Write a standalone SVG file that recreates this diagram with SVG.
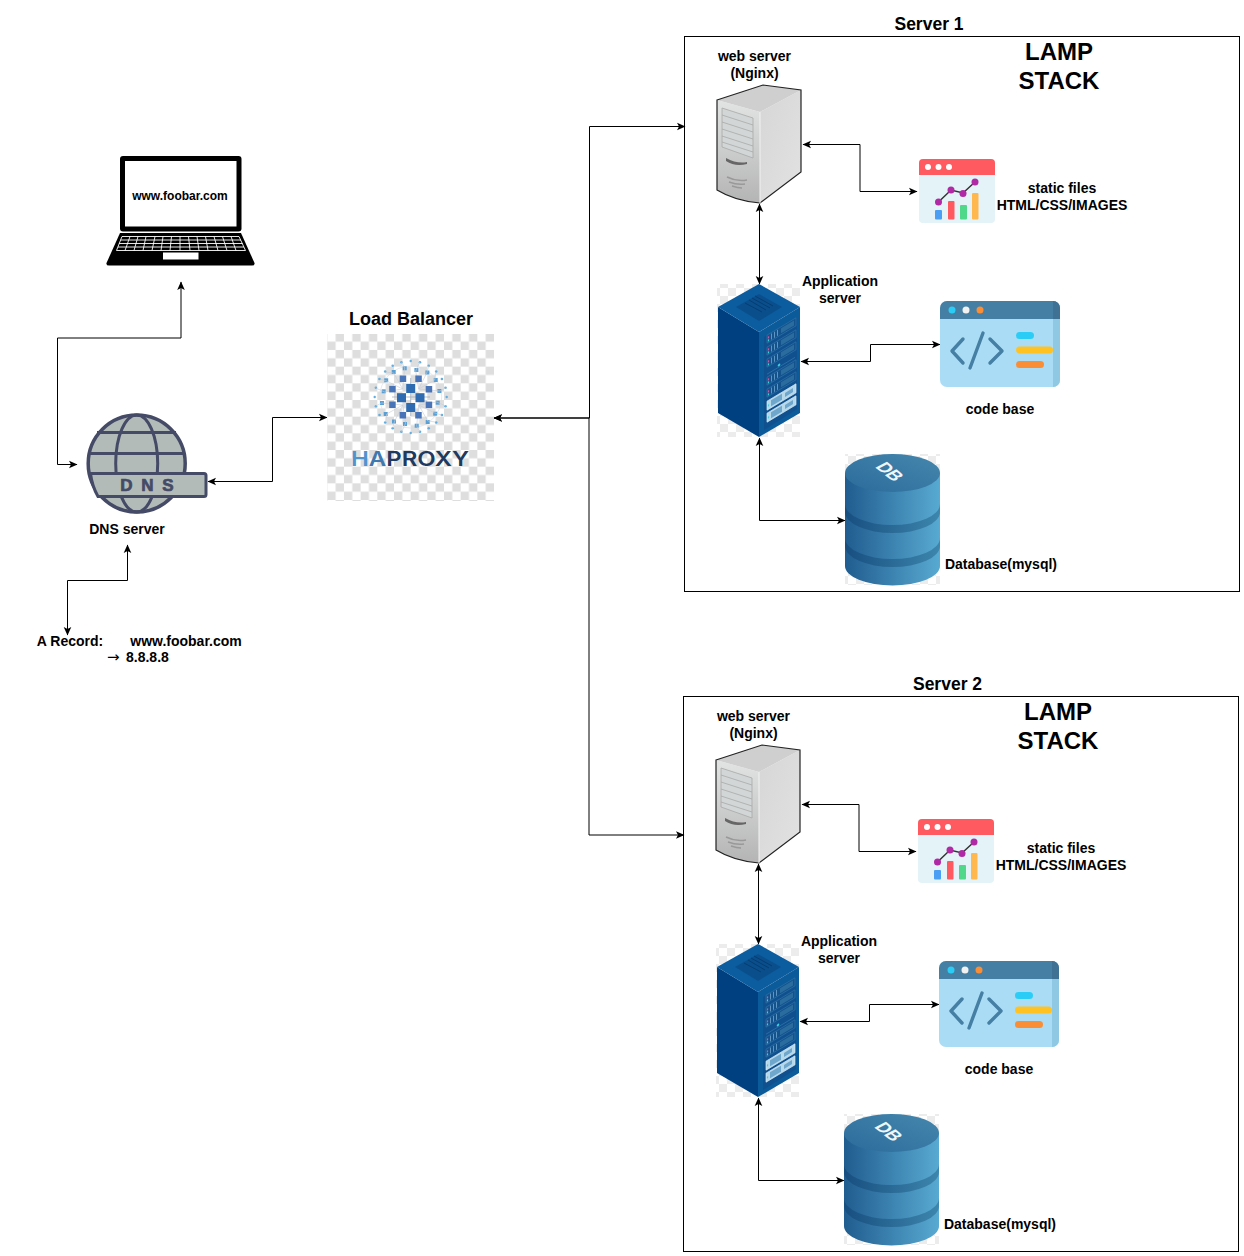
<svg xmlns="http://www.w3.org/2000/svg" width="1244" height="1256" viewBox="0 0 1244 1256">
<style>
text{font-family:"Liberation Sans",Arial,sans-serif;font-weight:700;fill:#000;text-anchor:middle}
.lbl{font-size:14px}
.ttl{font-size:17.500px}
.lamp{font-size:24px}
.box{fill:#fff;stroke:#000;stroke-width:1}
.conn{fill:none;stroke:#000;stroke-width:1;marker-start:url(#arr);marker-end:url(#arr)}
.k{stroke:#fff;stroke-width:.9;fill:none}
.r2{fill:#4a74b8}.r1{fill:#2f6bb0}.r3{fill:#5a9fd4}.r4{fill:#62aee0}
.unit{fill:#14528c;stroke:#2f74ab;stroke-width:.6}
.unitl{fill:#b5d8ea;stroke:#d9edf7;stroke-width:.6}
</style>
<defs>
<marker id="arr" markerUnits="userSpaceOnUse" markerWidth="10" markerHeight="10" viewBox="0 0 10 10" refX="9" refY="5" orient="auto-start-reverse">
<path d="M1 1.200 L9.500 5 L1 8.800 L3 5 Z" fill="#000"/>
</marker>
<pattern id="chk" width="16.670" height="16.670" patternUnits="userSpaceOnUse" x="327.300" y="333.300">
<rect width="16.670" height="16.670" fill="#fff"/><rect x="8.330" width="8.330" height="8.330" fill="#dedede"/><rect y="8.330" width="8.330" height="8.330" fill="#dedede"/>
</pattern>
<pattern id="chk2" width="16" height="16" patternUnits="userSpaceOnUse">
<rect width="16" height="16" fill="#fff"/><rect x="8" width="8" height="8" fill="#ececec"/><rect y="8" width="8" height="8" fill="#ececec"/>
</pattern>
<linearGradient id="face" x1="0" x2="0" y1="0" y2="1"><stop offset="0" stop-color="#e2e4e4"/><stop offset="1" stop-color="#b4b4b4"/></linearGradient>
<linearGradient id="side" x1="0" x2="1" y1="0" y2="1"><stop offset="0" stop-color="#d6d6d6"/><stop offset="1" stop-color="#e2e2e2"/></linearGradient>
<linearGradient id="dbb" x1="0" x2="1" y1="0" y2="0"><stop offset="0" stop-color="#205c8f"/><stop offset="1" stop-color="#58aad2"/></linearGradient>
<linearGradient id="dbt" x1="0" x2="1" y1="1" y2="0"><stop offset="0" stop-color="#2b6b9c"/><stop offset="1" stop-color="#4587ad"/></linearGradient>
<linearGradient id="dbd" x1="0" x2="1" y1="0" y2="0"><stop offset="0" stop-color="#174e80"/><stop offset="1" stop-color="#3d86ad"/></linearGradient>

<g id="hq">
<circle cx="34.800" cy="9.300" r="1.300" class="r4"/><circle cx="31.200" cy="18" r="1.300" class="r4"/><circle cx="25.500" cy="25.500" r="1.300" class="r4"/><circle cx="18" cy="31.200" r="1.300" class="r4"/><circle cx="9.300" cy="34.800" r="1.300" class="r4"/><circle cx="36" cy="0" r="1.200" class="r4"/>
<rect x="25" y="3.700" width="4" height="4" class="r3"/><rect x="22.500" y="14.700" width="4" height="4" class="r3"/><rect x="15" y="23" width="4" height="4" class="r3"/><rect x="4" y="26.700" width="4" height="4" class="r3"/>
<path d="M8 8 L26 5 M8 8 L24 16 M8 8 L17 24 M8 8 L6 29 M26 5 L35 9 M24 16 L31 18 M17 24 L25 25 M6 29 L9 35" stroke="#c4ccd6" stroke-width=".6" fill="none"/>
<rect x="15" y="4.600" width="6.500" height="6.500" class="r2"/><rect x="4.500" y="15" width="6.500" height="6.500" class="r2"/>
</g>

<g id="web">
<path d="M717 100 L760 112 L760 203 Q735 201 717 190 Z" fill="url(#face)"/>
<path d="M760 112 L801 90 L801 172 L760 203 Z" fill="url(#side)"/>
<path d="M717 100 L763 85 L801 90 L760 112 Z" fill="#cfcfcf"/>
<path d="M717 100 L763 85 L801 90 L801 172 L760 203 Q735 201 717 190 Z" fill="none" stroke="#222" stroke-width="1.200"/>
<path d="M760 112 L760 203" stroke="#f2f2f2" stroke-width="1"/>
<path d="M722 108 L753 118 L753 158 L722 147 Z" fill="#d2d6d6" stroke="#a8a8a8" stroke-width=".8"/>
<path d="M722 115 L753 125 M722 122 L753 132 M722 129 L753 139 M722 136 L753 146 M722 142 L753 152" stroke="#a3a3a3" stroke-width=".7"/>
<path d="M726 158 Q737 164 747 162 L747 164 Q735 167 726 161 Z" fill="#666"/>
<path d="M727 177 Q737 182 747 180 M729 182 Q737 185 745 184 M732 186 Q738 188 742 188" stroke="#999" stroke-width="1.400" fill="none"/>
</g>

<g id="stat">
<rect x="919" y="159" width="76" height="64" rx="4" fill="#e4f3f8"/>
<path d="M919 175 V163 a4 4 0 0 1 4 -4 H991 a4 4 0 0 1 4 4 V175 Z" fill="#ff5a5f"/>
<circle cx="928" cy="167" r="3" fill="#fff"/><circle cx="938.500" cy="167" r="3" fill="#fff"/><circle cx="949" cy="167" r="3" fill="#fff"/>
<rect x="935" y="210" width="7" height="9.500" rx="1" fill="#4a9ff5"/><rect x="948" y="201" width="6.500" height="18.500" rx="1" fill="#ff5a5f"/><rect x="960" y="205" width="7" height="14.500" rx="1" fill="#4fd88a"/><rect x="972" y="193" width="6.500" height="26.500" rx="1" fill="#ffb84d"/>
<path d="M938.500 202 L951 190 L963 193 L975 182" fill="none" stroke="#333" stroke-width="1.500"/>
<circle cx="938.500" cy="202" r="3.500" fill="#b02aa5"/><circle cx="951" cy="190" r="3.500" fill="#b02aa5"/><circle cx="963" cy="193.500" r="3.500" fill="#b02aa5"/><circle cx="975" cy="182" r="3.500" fill="#b02aa5"/>
</g>

<g id="rackunits">
<rect x="8" y="5" width="29" height="8" class="unit"/><rect x="8" y="17" width="29" height="8" class="unit"/><rect x="8" y="29" width="29" height="8" class="unit"/><rect x="8" y="47" width="29" height="8" class="unit"/><rect x="8" y="59" width="29" height="8" class="unit"/>
<rect x="8" y="71" width="29" height="9" class="unitl"/><rect x="8" y="83" width="29" height="9" class="unitl"/>
<path d="M12 6 h1 v6 h-1 Z M15 6 h1 v6 h-1 Z M18 6 h1 v6 h-1 Z M12 18 h1 v6 h-1 Z M15 18 h1 v6 h-1 Z M18 18 h1 v6 h-1 Z M12 30 h1 v6 h-1 Z M15 30 h1 v6 h-1 Z M18 30 h1 v6 h-1 Z M12 48 h1 v6 h-1 Z M15 48 h1 v6 h-1 Z M18 48 h1 v6 h-1 Z M12 60 h1 v6 h-1 Z M15 60 h1 v6 h-1 Z M18 60 h1 v6 h-1 Z" fill="#5d96c4"/>
<path d="M22 6.500 h13 v5 h-13 Z M22 18.500 h13 v5 h-13 Z M22 30.500 h13 v5 h-13 Z M22 48.500 h13 v5 h-13 Z M22 60.500 h13 v5 h-13 Z" fill="#2b6c9e"/>
<path d="M12 72.500 h11 v6 h-11 Z M12 84.500 h11 v6 h-11 Z M26 73.500 h8 v4 h-8 Z M26 85.500 h8 v4 h-8 Z" fill="#6ea6cc"/>
<path d="M9.500 7 v2 M9.500 19 v2 M9.500 31 v2 M9.500 49 v2 M9.500 61 v2" stroke="#e0509c" stroke-width="1.200"/>
<path d="M9.500 10 v2 M9.500 22 v2 M9.500 34 v2 M9.500 52 v2 M9.500 64 v2 M9.500 75 v2 M9.500 87 v2" stroke="#3fd0e0" stroke-width="1.200"/>
<circle cx="20" cy="42" r="1.300" fill="#3fd0e0"/>
<path d="M8 44 H36" stroke="#2f74ab" stroke-width=".7"/>
</g>

<g id="rack">
<rect x="717" y="284" width="83" height="153" fill="url(#chk2)"/>
<path d="M718 307 L759 332 L759 437 L718 413 Z" fill="#004080"/>
<path d="M759 284 L800 307 L759 332 L718 307 Z" fill="#0c5d9f"/>
<path d="M759 332 L800 307 L800 413 L759 437 Z" fill="#0b5a9a"/>
<path d="M764 337 L797 318 L797 409 L764 430 Z" fill="#10508e"/>
<path d="M736 307 L759 294 L782 307 L759 321 Z" fill="#0a4f8c"/>
<path d="M745 303 L762 312 M749 300 L766 310 M752 298 L770 308 M755 296 L773 306" stroke="#053d72" stroke-width="1"/>
<use href="#rackunits" transform="matrix(1,-0.6,0,1,759,335)"/>
</g>

<g id="code">
<rect x="940" y="301" width="120" height="86" rx="7" fill="#aadcf5"/>
<path d="M1053 319 H1060 V380 a7 7 0 0 1 -7 7 Z" fill="#8ec8e3"/>
<path d="M940 319 V308 a7 7 0 0 1 7 -7 H1053 a7 7 0 0 1 7 7 V319 Z" fill="#457fa3"/>
<path d="M1053 301 a7 7 0 0 1 7 7 V319 H1053 Z" fill="#3e7193"/>
<circle cx="952" cy="310" r="3.500" fill="#2bcdf7"/><circle cx="966" cy="310" r="3.500" fill="#f1f1f1"/><circle cx="980" cy="310" r="3.500" fill="#f98e37"/>
<path d="M963 339 L952 351 L963 363 M990 339 L1002 351 L990 363 M983 333 L970 368" fill="none" stroke="#457fa3" stroke-width="3.400" stroke-linecap="round" stroke-linejoin="round"/>
<rect x="1016" y="332" width="18" height="7" rx="3.500" fill="#2bcdf7"/><rect x="1016" y="346.500" width="37" height="7" rx="3.500" fill="#ffc224"/><rect x="1016" y="361" width="28" height="7" rx="3.500" fill="#f98e37"/>
</g>

<g id="dbicon">
<rect x="845" y="454" width="95" height="131" fill="url(#chk2)"/>
<path d="M845 473 V566 A47.500 19.500 0 0 0 940 566 V473 Z" fill="url(#dbb)"/>
<path d="M845 504 A47.500 21 0 0 0 940 504 V512 A47.500 21 0 0 1 845 512 Z" fill="url(#dbd)"/>
<path d="M845 538 A47.500 21 0 0 0 940 538 V546 A47.500 21 0 0 1 845 546 Z" fill="url(#dbd)"/>
<ellipse cx="892.500" cy="473" rx="47.500" ry="19" fill="url(#dbt)"/>
<text transform="translate(890,471.500) rotate(38) skewX(-25)" y="6" style="font-size:17px;fill:#eef6fa">DB</text>
</g>
</defs>

<g id="server1-frame"><rect class="box" x="684.500" y="36.500" width="555" height="555"/><text class="ttl" x="929" y="29.500">Server 1</text><text class="lamp" x="1059" y="60">LAMP</text><text class="lamp" x="1059" y="89">STACK</text></g>
<g id="server2-frame"><rect class="box" x="683.500" y="696.500" width="555" height="555"/><text class="ttl" x="947.500" y="689.500">Server 2</text><text class="lamp" x="1058" y="720">LAMP</text><text class="lamp" x="1058" y="749">STACK</text></g>

<g id="connectors">
<path class="conn" d="M181 282 V338 H57.500 V464.500 H77"/>
<path class="conn" d="M208 481.500 H272.500 V417.500 H327"/>
<path class="conn" d="M127.500 545 V580.500 H67.500 V635"/>
<path class="conn" d="M494 418 H589.500 V126.500 H685"/>
<path class="conn" d="M494 418 H589 V835 H684"/>
<g id="s1-conn">
<path class="conn" d="M803 144.500 H860 V191.500 H917"/>
<path class="conn" d="M759.500 204 V284"/>
<path class="conn" d="M801 361.500 H870.500 V344.500 H940"/>
<path class="conn" d="M759.500 438 V520.500 H845"/>
</g>
<g id="s2-conn" transform="translate(-1,660)">
<path class="conn" d="M803 144.500 H860 V191.500 H917"/>
<path class="conn" d="M759.500 204 V284"/>
<path class="conn" d="M801 361.500 H870.500 V344.500 H940"/>
<path class="conn" d="M759.500 438 V520.500 H845"/>
</g>
</g>

<g id="laptop">
<rect x="120" y="156" width="121.500" height="75.500" rx="3" fill="#000"/>
<rect x="125" y="161" width="111.500" height="65.500" fill="#fff"/>
<path d="M120 233 H241 L254.500 263 Q255 265.500 252 265.500 H109 Q106 265.500 106.500 263 Z" fill="#000"/>
<path class="k" d="M122 236.500 H239 M120.500 240 H241 M119 243.500 H242.500 M118 247 H244 M116.500 250.500 H245.500"/>
<path class="k" d="M122 236.500 L116.500 250.500 M130 236.500 L125 250.500 M138 236.500 L134 250.500 M146 236.500 L143 250.500 M155 236.500 L152 250.500 M163 236.500 L161 250.500 M171.500 236.500 L170 250.500 M180 236.500 V250.500 M188.500 236.500 L190 250.500 M197 236.500 L199 250.500 M205.500 236.500 L208 250.500 M214 236.500 L218 250.500 M222.500 236.500 L227 250.500 M231 236.500 L236 250.500 M239 236.500 L245.500 250.500"/>
<rect x="163" y="252.500" width="35.500" height="7" fill="#fff"/>
<text x="180" y="200" style="font-size:12px">www.foobar.com</text>
</g>

<g id="dns">
<circle cx="136.700" cy="463.500" r="48.500" fill="#b3bbb8" stroke="#454a66" stroke-width="3.500"/>
<ellipse cx="136.700" cy="463.500" rx="21" ry="48.500" fill="none" stroke="#454a66" stroke-width="3"/>
<path d="M97 432.500 H176 M88.500 453.500 H185" stroke="#454a66" stroke-width="3" fill="none"/>
<path d="M90.500 473.500 H204 a2 2 0 0 1 2 2 V494.500 a2 2 0 0 1 -2 2 H98 Q92 486 90.500 473.500 Z" fill="#b3bbb8" stroke="#454a66" stroke-width="3"/>
<text x="148" y="491" style="font-size:17px;fill:#454a66;stroke:#454a66;stroke-width:.7px;letter-spacing:2px">D N S</text>
<text class="lbl" x="127" y="534">DNS server</text>
</g>

<g id="a-record"><text class="lbl" x="70" y="646">A Record:</text><text class="lbl" x="186" y="646">www.foobar.com</text><text x="107" y="662" style="text-anchor:start;font-size:15px;font-weight:400;font-family:'DejaVu Sans',sans-serif">→</text><text class="lbl" x="126" y="662" style="text-anchor:start">8.8.8.8</text></g>

<g id="load-balancer">
<rect x="327" y="334" width="167" height="167" fill="url(#chk)"/>
<text x="411" y="325" style="font-size:18px">Load Balancer</text>
<circle cx="410.700" cy="397" r="31" fill="none" stroke="#d4dae2" stroke-width=".6"/>
<use href="#hq" transform="translate(410.700,397)"/><use href="#hq" transform="translate(410.700,397) rotate(90)"/><use href="#hq" transform="translate(410.700,397) rotate(180)"/><use href="#hq" transform="translate(410.700,397) rotate(270)"/>
<path d="M410.700 378 V416 M392 397 H430" stroke="#9aa8b8" stroke-width=".7"/>
<rect x="406.200" y="384" width="9" height="9" class="r1"/><rect x="397" y="393.200" width="9" height="9" class="r1"/><rect x="415.500" y="393.200" width="9" height="9" class="r1"/><rect x="406.200" y="403" width="9" height="9" class="r1"/>
<text x="410" y="465.500" textLength="118" lengthAdjust="spacingAndGlyphs" style="font-family:Inter,'Liberation Sans',sans-serif;font-size:20px;font-weight:600;fill:#1f3a5f"><tspan style="fill:#4f94cf">H</tspan><tspan style="fill:#3f78b0">A</tspan>PROXY</text>
</g>

<g id="s1-web"><use href="#web"/><text class="lbl" x="754.500" y="61">web server</text><text class="lbl" x="754.500" y="78">(Nginx)</text></g>
<g id="s1-static"><use href="#stat"/><text class="lbl" x="1062" y="193">static files</text><text class="lbl" x="1062" y="210">HTML/CSS/IMAGES</text></g>
<g id="s1-app"><use href="#rack"/><text class="lbl" x="840" y="286">Application</text><text class="lbl" x="840" y="303">server</text></g>
<g id="s1-code"><use href="#code"/><text class="lbl" x="1000" y="414">code base</text></g>
<g id="s1-db"><use href="#dbicon"/><text class="lbl" x="1001" y="569">Database(mysql)</text></g>

<g id="s2-web" transform="translate(-1,660)"><use href="#web"/><text class="lbl" x="754.500" y="61">web server</text><text class="lbl" x="754.500" y="78">(Nginx)</text></g>
<g id="s2-static" transform="translate(-1,660)"><use href="#stat"/><text class="lbl" x="1062" y="193">static files</text><text class="lbl" x="1062" y="210">HTML/CSS/IMAGES</text></g>
<g id="s2-app" transform="translate(-1,660)"><use href="#rack"/><text class="lbl" x="840" y="286">Application</text><text class="lbl" x="840" y="303">server</text></g>
<g id="s2-code" transform="translate(-1,660)"><use href="#code"/><text class="lbl" x="1000" y="414">code base</text></g>
<g id="s2-db" transform="translate(-1,660)"><use href="#dbicon"/><text class="lbl" x="1001" y="569">Database(mysql)</text></g>
</svg>
